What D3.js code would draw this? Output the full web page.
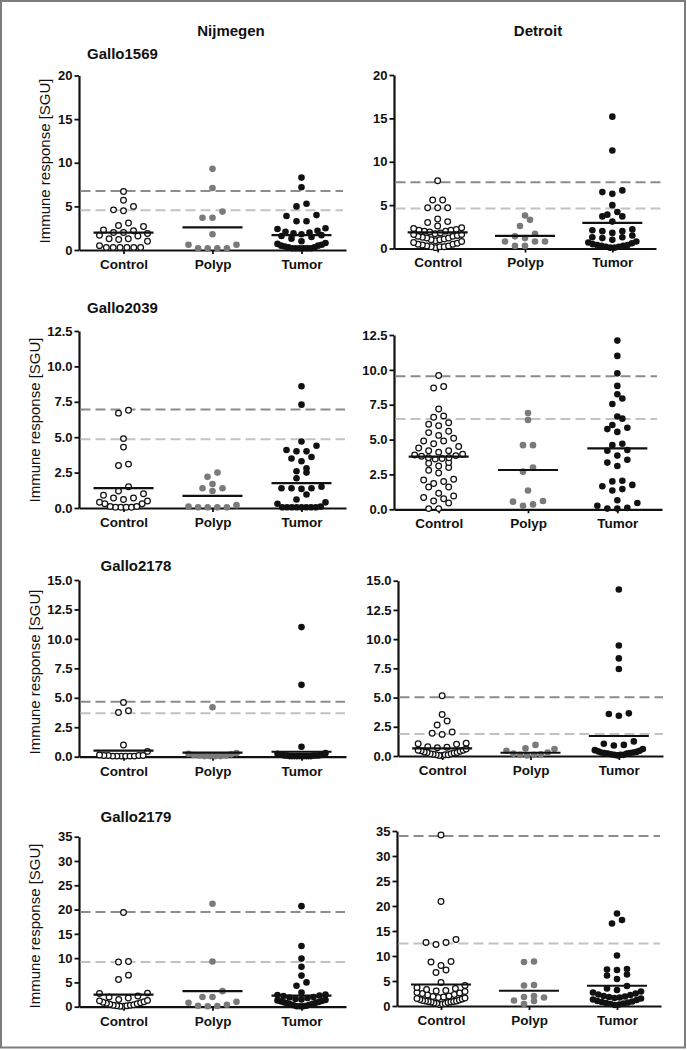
<!DOCTYPE html>
<html>
<head>
<meta charset="utf-8">
<script src="https://cdn.jsdelivr.net/npm/d3@7/dist/d3.min.js"></script>
<style>
  html, body { margin: 0; padding: 0; background: #fff; }
  svg { display: block; font-family: "Liberation Sans", Arial, Helvetica, sans-serif; }
</style>
</head>
<body>
<script>
// ---------------- DATA ----------------
const categories = ["Control", "Polyp", "Tumor"];
const cohorts = ["Nijmegen", "Detroit"];
const antigens = ["Gallo1569", "Gallo2039", "Gallo2178", "Gallo2179"];
const yMax = [20, 12.5, 15, 35];
const yStep = [5, 2.5, 2.5, 5];
const yFormat = ["d", ".1f", ".1f", "d"];
const yLabel = "Immune response [SGU]";

// Gallo1569 – Nijmegen
const nij1569Control = [6.7, 5.7, 5.0, 4.6, 4.5, 3.1, 2.8, 2.7, 2.3, 2.2, 2.0, 2.0, 1.9, 1.7, 1.6, 1.3, 1.3, 1.2, 1.0, 0.5, 0.3, 0.3, 0.3, 0.3, 0.3, 0.3];
const nij1569Polyp = [9.3, 7.1, 4.4, 3.7, 3.7, 1.8, 0.6, 0.6, 0.2, 0.2, 0.2, 0.2];
const nij1569Tumor = [8.3, 7.2, 5.3, 5.0, 4.0, 3.9, 3.3, 3.3, 2.5, 2.4, 2.2, 2.1, 2.0, 1.9, 1.8, 1.7, 1.6, 1.5, 1.3, 1.0, 0.8, 0.7, 0.6, 0.5, 0.5, 0.4, 0.3, 0.3, 0.2, 0.2, 0.2, 0.2, 0.2, 0.2];
const nij1569Means = [2.0, 2.6, 1.7];
const nij1569Cutoffs = [6.75, 4.55];

// Gallo1569 – Detroit
const det1569Control = [7.8, 5.6, 5.6, 4.7, 4.7, 4.7, 3.4, 3.1, 3.0, 2.6, 2.4, 2.3, 2.2, 2.1, 2.1, 2.0, 2.0, 1.9, 1.8, 1.7, 1.6, 1.6, 1.5, 1.4, 1.4, 1.3, 1.2, 1.2, 1.1, 1.0, 1.0, 0.9, 0.8, 0.7, 0.6, 0.5, 0.5, 0.4, 0.3, 0.3, 0.2, 0.2, 0.2, 0.1];
const det1569Polyp = [3.8, 3.3, 2.6, 1.7, 1.4, 1.2, 0.8, 0.8, 0.8, 0.3, 0.3];
const det1569Tumor = [15.2, 11.3, 6.7, 6.5, 6.3, 5.0, 4.2, 3.9, 3.7, 3.7, 3.1, 2.2, 2.1, 2.0, 2.0, 1.8, 1.5, 1.3, 1.3, 1.2, 1.0, 0.8, 0.7, 0.6, 0.5, 0.4, 0.4, 0.3, 0.3, 0.2, 0.2, 0.1, 0.1];
const det1569Means = [1.85, 1.45, 2.95];
const det1569Cutoffs = [7.65, 4.6];

// Gallo2039 – Nijmegen
const nij2039Control = [6.9, 6.7, 4.9, 4.3, 3.1, 3.0, 1.5, 1.2, 1.0, 0.9, 0.7, 0.7, 0.6, 0.5, 0.4, 0.3, 0.3, 0.1, 0.1, 0.05, 0.05, 0.05, 0.05];
const nij2039Polyp = [2.5, 2.2, 1.7, 1.4, 1.4, 1.2, 0.2, 0.1, 0.05, 0.05, 0.05, 0.05];
const nij2039Tumor = [8.6, 7.3, 4.7, 4.4, 4.1, 4.0, 4.0, 3.6, 3.5, 3.3, 2.8, 2.6, 2.5, 2.1, 1.5, 1.4, 1.4, 1.4, 1.35, 0.95, 0.6, 0.4, 0.3, 0.1, 0.05, 0.05, 0.05, 0.05, 0.05, 0.05, 0.05, 0.05];
const nij2039Means = [1.4, 0.85, 1.75];
const nij2039Cutoffs = [6.95, 4.85];

// Gallo2039 – Detroit
const det2039Control = [9.6, 8.8, 8.7, 7.2, 6.7, 6.6, 6.2, 6.1, 6.0, 5.6, 5.5, 5.3, 5.1, 4.9, 4.9, 4.7, 4.5, 4.4, 4.2, 4.2, 4.1, 3.95, 3.9, 3.85, 3.8, 3.7, 3.7, 3.65, 3.6, 3.35, 3.3, 3.1, 3.0, 2.8, 2.6, 2.15, 2.1, 2.0, 1.85, 1.6, 1.6, 1.15, 0.95, 0.85, 0.75, 0.6, 0.45, 0.05, 0.05];
const det2039Polyp = [6.9, 6.4, 4.6, 4.6, 3.0, 2.7, 1.35, 0.6, 0.55, 0.35, 0.25];
const det2039Tumor = [12.1, 11.0, 9.75, 8.85, 8.25, 7.95, 7.55, 6.65, 6.5, 6.05, 5.85, 5.75, 5.55, 4.7, 4.6, 4.25, 4.2, 3.85, 3.55, 3.35, 3.1, 2.05, 2.0, 1.75, 1.65, 1.45, 1.35, 0.65, 0.45, 0.25, 0.1, 0.05, 0.05];
const det2039Means = [3.78, 2.82, 4.37];
const det2039Cutoffs = [9.55, 6.48];

// Gallo2178 – Nijmegen
const nij2178Control = [4.6, 3.9, 3.75, 1.0, 0.45, 0.15, 0.1, 0.1, 0.1, 0.1, 0.05, 0.05, 0.05, 0.05, 0.05, 0.05];
const nij2178Polyp = [4.2, 0.3, 0.25, 0.2, 0.15, 0.1, 0.1, 0.05, 0.05, 0.05, 0.05];
const nij2178Tumor = [11.0, 6.1, 0.85, 0.3, 0.25, 0.2, 0.2, 0.15, 0.15, 0.1, 0.1, 0.1, 0.1, 0.1, 0.05, 0.05, 0.05, 0.05, 0.05, 0.05, 0.05, 0.05, 0.05, 0.05];
const nij2178Means = [0.51, 0.34, 0.42];
const nij2178Cutoffs = [4.67, 3.68];

// Gallo2178 – Detroit
const det2178Control = [5.15, 3.55, 3.0, 2.65, 2.05, 1.95, 1.85, 1.1, 1.05, 1.0, 0.8, 0.75, 0.7, 0.6, 0.5, 0.5, 0.45, 0.4, 0.35, 0.3, 0.3, 0.25, 0.2, 0.2, 0.15, 0.1, 0.1, 0.1, 0.05, 0.05];
const det2178Polyp = [0.95, 0.65, 0.6, 0.45, 0.3, 0.2, 0.15, 0.1, 0.1, 0.05];
const det2178Tumor = [14.25, 9.45, 8.35, 7.45, 3.65, 3.6, 3.45, 1.25, 1.05, 0.95, 0.9, 0.6, 0.5, 0.45, 0.4, 0.35, 0.3, 0.3, 0.25, 0.25, 0.2, 0.2, 0.15, 0.1, 0.1, 0.1, 0.05];
const det2178Means = [0.66, 0.28, 1.71];
const det2178Cutoffs = [5.02, 1.88];

// Gallo2179 – Nijmegen
const nij2179Control = [19.4, 9.3, 9.2, 6.5, 5.6, 2.8, 2.7, 2.2, 2.0, 1.8, 1.5, 1.3, 1.2, 1.0, 0.9, 0.8, 0.7, 0.6, 0.5, 0.4, 0.3, 0.3, 0.2, 0.2, 0.1, 0.1];
const nij2179Polyp = [21.2, 9.3, 3.2, 2.0, 2.0, 1.0, 0.8, 0.4, 0.2, 0.15, 0.1];
const nij2179Tumor = [20.7, 12.5, 9.9, 8.2, 6.4, 5.0, 4.3, 2.9, 2.5, 2.4, 2.3, 2.2, 2.0, 1.9, 1.8, 1.6, 1.5, 1.4, 1.3, 1.2, 1.1, 1.0, 0.9, 0.8, 0.7, 0.6, 0.5, 0.4, 0.3, 0.2, 0.1, 0.1, 0.1];
const nij2179Means = [2.5, 3.2, 2.3];
const nij2179Cutoffs = [19.5, 9.2];

// Gallo2179 – Detroit
const det2179Control = [34.2, 20.9, 13.3, 12.7, 12.7, 12.3, 8.9, 8.8, 8.1, 7.2, 6.7, 4.7, 4.1, 3.7, 3.5, 3.3, 3.1, 3.0, 2.9, 2.7, 2.6, 2.5, 2.3, 2.2, 2.0, 1.9, 1.8, 1.7, 1.6, 1.5, 1.4, 1.3, 1.2, 1.1, 1.0, 1.0, 0.9, 0.9, 0.8, 0.8, 0.7, 0.6, 0.5, 0.5, 0.4, 0.3];
const det2179Polyp = [8.9, 8.8, 4.2, 4.1, 2.0, 1.8, 1.7, 1.1, 1.0, 0.4];
const det2179Tumor = [18.5, 17.2, 16.5, 10.1, 7.4, 7.3, 7.2, 6.3, 6.1, 5.4, 4.0, 3.5, 3.2, 2.9, 2.7, 2.5, 2.3, 2.2, 2.0, 1.9, 1.8, 1.7, 1.6, 1.5, 1.3, 1.2, 1.0, 0.9, 0.8, 0.7, 0.6, 0.5, 0.4, 0.3, 0.2];
const det2179Means = [4.3, 3.05, 4.05];
const det2179Cutoffs = [34.0, 12.5];

// table built from the arrays above: [row][cohort]
const panelData = [
  [{ groups: [nij1569Control, nij1569Polyp, nij1569Tumor], means: nij1569Means, cutoffs: nij1569Cutoffs },
   { groups: [det1569Control, det1569Polyp, det1569Tumor], means: det1569Means, cutoffs: det1569Cutoffs }],
  [{ groups: [nij2039Control, nij2039Polyp, nij2039Tumor], means: nij2039Means, cutoffs: nij2039Cutoffs },
   { groups: [det2039Control, det2039Polyp, det2039Tumor], means: det2039Means, cutoffs: det2039Cutoffs }],
  [{ groups: [nij2178Control, nij2178Polyp, nij2178Tumor], means: nij2178Means, cutoffs: nij2178Cutoffs },
   { groups: [det2178Control, det2178Polyp, det2178Tumor], means: det2178Means, cutoffs: det2178Cutoffs }],
  [{ groups: [nij2179Control, nij2179Polyp, nij2179Tumor], means: nij2179Means, cutoffs: nij2179Cutoffs },
   { groups: [det2179Control, det2179Polyp, det2179Tumor], means: det2179Means, cutoffs: det2179Cutoffs }]
];

// ---------------- LAYOUT ----------------
const W = 687, H = 1050;
const layout = [
  [{ ax: 79, xe: 346, y0: 250, yt: 75.5, de: 343 }, { ax: 394, xe: 656, y0: 248.5, yt: 75, de: 665 }],
  [{ ax: 79, xe: 346, y0: 508, yt: 331, de: 345 }, { ax: 394, xe: 662, y0: 509.3, yt: 335, de: 657 }],
  [{ ax: 79, xe: 346, y0: 756.7, yt: 580, de: 345 }, { ax: 398, xe: 663, y0: 756, yt: 580.7, de: 663 }],
  [{ ax: 79, xe: 346, y0: 1006.7, yt: 836.7, de: 345 }, { ax: 397, xe: 661, y0: 1006, yt: 831, de: 660 }]
];
const rowTitlePos = [{ x: 87, y: 59 }, { x: 87, y: 312.7 }, { x: 100.5, y: 570.7 }, { x: 100.5, y: 822.3 }];
const yLabelPos = [{ x: 49.5, y: 161 }, { x: 39.5, y: 420 }, { x: 39.5, y: 672 }, { x: 39.5, y: 926 }];
const cohortTitlePos = [{ x: 231, y: 36 }, { x: 538, y: 36 }];

const fillColor = ["#ffffff", "#7a7a7a", "#111111"];
const strokeColor = ["#111111", "none", "none"];
const BIN_H = 6.5, GAP = 10, MAX_HALF = 24;

function swarm(values, y, cx) {
  const pts = values.map(v => ({ v, py: y(v) }));
  pts.sort((a, b) => b.py - a.py);
  const bins = [];
  let cur = null;
  for (const p of pts) {
    if (!cur || cur.start - p.py > BIN_H) { cur = { start: p.py, items: [] }; bins.push(cur); }
    cur.items.push(p);
  }
  bins.forEach(b => {
    const n = b.items.length;
    const sp = n > 1 ? Math.min(GAP, (2 * MAX_HALF) / (n - 1)) : 0;
    // center-out slot order
    const slots = d3.range(n).map(i => (i - (n - 1) / 2) * sp);
    const order = slots.map((s, i) => i).sort((a, b) => Math.abs(slots[a]) - Math.abs(slots[b]) || slots[a] - slots[b]);
    b.items.sort((a, c) => a.v - c.v).forEach((p, i) => { p.px = cx + slots[order[i]]; });
  });
  return pts;
}

const svg = d3.select("body").append("svg").attr("width", W).attr("height", H);
svg.append("rect").attr("x", 0).attr("y", 0).attr("width", W).attr("height", H).attr("fill", "#fff");
svg.append("rect").attr("x", 1).attr("y", 1).attr("width", 684).attr("height", 1046.5)
  .attr("fill", "none").attr("stroke", "#7c7c7c").attr("stroke-width", 2);

cohorts.forEach((c, ci) => {
  svg.append("text").attr("x", cohortTitlePos[ci].x).attr("y", cohortTitlePos[ci].y)
    .attr("text-anchor", "middle").attr("font-size", 15).attr("font-weight", "bold").attr("fill", "#111").text(c);
});

antigens.forEach((ag, r) => {
  svg.append("text").attr("x", rowTitlePos[r].x).attr("y", rowTitlePos[r].y)
    .attr("font-size", 15).attr("font-weight", "bold").attr("fill", "#111").text(ag);
  svg.append("text").attr("transform", `translate(${yLabelPos[r].x},${yLabelPos[r].y}) rotate(-90)`)
    .attr("text-anchor", "middle").attr("font-size", 15).attr("fill", "#111").text(yLabel);

  cohorts.forEach((co, ci) => {
    const L = layout[r][ci];
    const D = panelData[r][ci];
    const g = svg.append("g");
    const y = d3.scaleLinear().domain([0, yMax[r]]).range([L.y0, L.yt]);
    const x = d3.scalePoint().domain(categories).range([L.ax, L.xe]).padding(0.5);

    // y axis
    const ya = g.append("g").attr("transform", `translate(${L.ax},0)`)
      .call(d3.axisLeft(y).tickValues(d3.range(0, yMax[r] + 1e-9, yStep[r]))
        .tickFormat(d3.format(yFormat[r])).tickSize(4.5).tickSizeOuter(0).tickPadding(2));
    // x axis
    const xa = g.append("g").attr("transform", `translate(0,${L.y0})`)
      .call(d3.axisBottom(x).tickSize(4).tickSizeOuter(0).tickPadding(5.4));
    [ya, xa].forEach(a => {
      a.select(".domain").attr("stroke", "#111").attr("stroke-width", 2.2);
      a.selectAll(".tick line").attr("stroke", "#111").attr("stroke-width", 1.8);
      a.selectAll(".tick text").attr("fill", "#111").attr("font-weight", "bold")
        .attr("font-family", "'Liberation Sans', Arial, sans-serif");
    });
    ya.selectAll(".tick text").attr("font-size", 13);
    xa.selectAll(".tick text").attr("font-size", 13.5);

    // cutoff dashed lines
    const dashColors = ["#8c8c8c", "#c2c2c2"];
    g.selectAll("line.cut").data(D.cutoffs).join("line").attr("class", "cut")
      .attr("x1", L.ax + 1.5).attr("x2", L.de)
      .attr("y1", d => y(d)).attr("y2", d => y(d))
      .attr("stroke", (d, i) => dashColors[i]).attr("stroke-width", 2)
      .attr("stroke-dasharray", "10,5");

    // points
    categories.forEach((cat, k) => {
      const pts = swarm(D.groups[k], y, x(cat));
      g.append("g").selectAll("circle").data(pts).join("circle")
        .attr("cx", d => d.px).attr("cy", d => d.py)
        .attr("r", k === 0 ? 2.85 : 3.3)
        .attr("fill", fillColor[k])
        .attr("stroke", strokeColor[k])
        .attr("stroke-width", k === 0 ? 1.25 : 0);
    });

    // mean lines
    g.selectAll("line.mean").data(D.means).join("line").attr("class", "mean")
      .attr("x1", (d, k) => x(categories[k]) - 30).attr("x2", (d, k) => x(categories[k]) + 30)
      .attr("y1", d => y(d)).attr("y2", d => y(d))
      .attr("stroke", "#111").attr("stroke-width", 2.2);
  });
});
</script>
</body>
</html>
